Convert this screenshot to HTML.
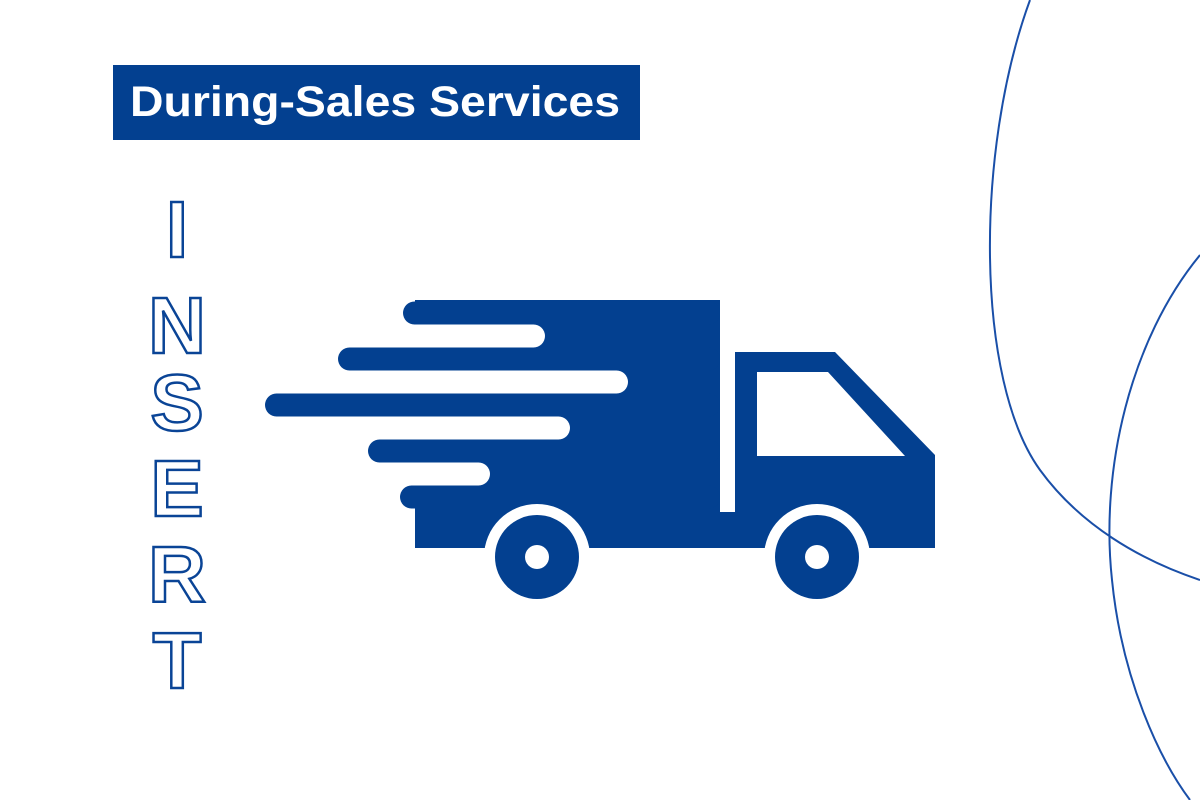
<!DOCTYPE html>
<html><head><meta charset="utf-8"><style>
html,body{margin:0;padding:0;background:#fff;width:1200px;height:800px;overflow:hidden}
</style></head><body>
<svg width="1200" height="800" viewBox="0 0 1200 800" xmlns="http://www.w3.org/2000/svg">
<rect x="113" y="65" width="527" height="75" fill="#034090"/>
<text x="130" y="116" font-family="Liberation Sans, sans-serif" font-weight="bold" font-size="43" fill="#fff" textLength="490" lengthAdjust="spacingAndGlyphs">During-Sales Services</text>

<g font-family="Liberation Sans, sans-serif" font-weight="bold" font-size="80" fill="#fff" stroke="#0a4496" stroke-width="2.5" text-anchor="middle">
<text x="177" y="257">I</text>
<text x="177" y="353">N</text>
<text x="177" y="430">S</text>
<text x="177" y="516">E</text>
<text x="177" y="602">R</text>
<text x="177" y="688">T</text>
</g>

<g fill="#034090">
<rect x="415" y="300" width="305" height="248"/>
<rect x="403" y="301.5" width="317" height="23" rx="11.5"/>
<rect x="338" y="347.5" width="382" height="23" rx="11.5"/>
<rect x="265" y="393.5" width="455" height="23" rx="11.5"/>
<rect x="368" y="439.5" width="352" height="23" rx="11.5"/>
<rect x="400" y="485.5" width="320" height="23" rx="11.5"/>
<polygon points="735,352 835,352 935,455 935,548 735,548"/>
<rect x="720" y="512" width="20" height="36"/>
</g>
<g fill="#fff">
<rect x="300" y="324.5" width="245" height="23" rx="11.5"/>
<rect x="300" y="370.5" width="328" height="23" rx="11.5"/>
<rect x="300" y="416.5" width="270" height="23" rx="11.5"/>
<rect x="300" y="462.5" width="190" height="23" rx="11.5"/>
<rect x="300" y="508.5" width="115" height="45"/>
<polygon points="757,372 828,372 905,456 757,456"/>
<circle cx="537" cy="557" r="53"/>
<circle cx="817" cy="557" r="53"/>
<rect x="300" y="548" width="700" height="60"/>
</g>
<g fill="#034090">
<circle cx="537" cy="557" r="42"/>
<circle cx="817" cy="557" r="42"/>
</g>
<g fill="#fff">
<circle cx="537" cy="557" r="12"/>
<circle cx="817" cy="557" r="12"/>
</g>

<g fill="none" stroke="#1a4fa8" stroke-width="2">
<path d="M1030,0 C975,150 975,380 1040,470 C1080,525 1140,560 1200,580"/>
<path d="M1200,255 C1130,340 1100,470 1112,580 C1122,680 1160,760 1190,800"/>
</g>
</svg>
</body></html>
